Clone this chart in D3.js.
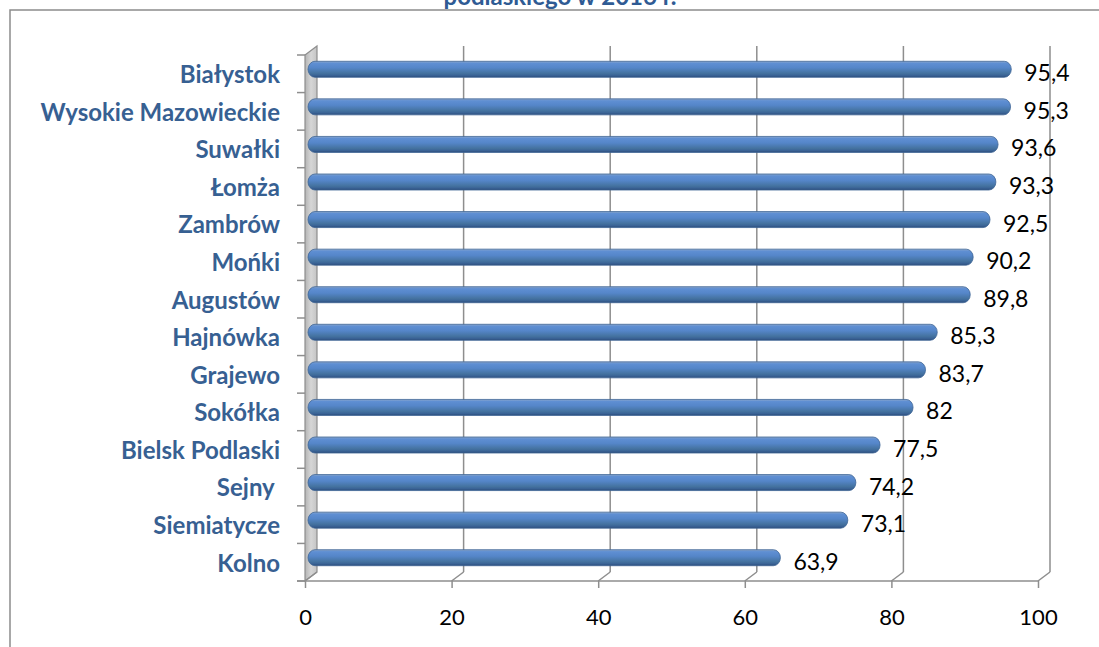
<!DOCTYPE html>
<html>
<head>
<meta charset="utf-8">
<script src="https://cdn.jsdelivr.net/npm/d3@7"></script>
<style>
  body { margin: 0; background: #fff; }
  svg { display: block; }
</style>
</head>
<body>
<div id="chart"></div>
<script>
// Data
const categories = ["Białystok", "Wysokie Mazowieckie", "Suwałki", "Łomża", "Zambrów", "Mońki",
  "Augustów", "Hajnówka", "Grajewo", "Sokółka", "Bielsk Podlaski", "Sejny ", "Siemiatycze", "Kolno"];
const values = [95.4, 95.3, 93.6, 93.3, 92.5, 90.2, 89.8, 85.3, 83.7, 82, 77.5, 74.2, 73.1, 63.9];
const xTicks = [0, 20, 40, 60, 80, 100];
const titleText = "podlaskiego w 2016 r.";

const data = categories.map((c, i) => ({ name: c, value: values[i] }));

const width = 1099, height = 647;
// depth of the 3D plot (back plane offset)
const depthX = 12, depthY = -9;

const svg = d3.select("#chart")
  .append("svg")
  .attr("width", width)
  .attr("height", height);

const defs = svg.append("defs");
const barGrad = defs.append("linearGradient")
  .attr("id", "barGrad")
  .attr("x1", 0).attr("y1", 0).attr("x2", 0).attr("y2", 1);
[[0, "#8fa9cc"], [0.12, "#5f8fd3"], [0.4, "#5586c9"], [0.75, "#44729f"], [0.88, "#3a6396"], [1, "#2c4c78"]]
  .forEach(([o, c]) => barGrad.append("stop").attr("offset", o).attr("stop-color", c));

const wallGrad = defs.append("linearGradient")
  .attr("id", "wallGrad")
  .attr("x1", 0).attr("y1", 0).attr("x2", 1).attr("y2", 0);
[[0, "#b4b4b4"], [0.5, "#d6d6d6"], [1, "#c4c4c4"]]
  .forEach(([o, c]) => wallGrad.append("stop").attr("offset", o).attr("stop-color", c));

// Outer chart border (only top and left fall inside the picture)
svg.append("path")
  .attr("d", "M10,650 L10,10 L1110,10")
  .attr("fill", "none")
  .attr("stroke", "#8c8c8c")
  .attr("stroke-width", 1.5);

// Title (cut off at the top edge, as in the source picture)
svg.append("text")
  .attr("x", 560)
  .attr("y", 5)
  .attr("text-anchor", "middle")
  .attr("font-family", "Lato, 'Open Sans', sans-serif")
  .attr("font-weight", "bold")
  .attr("font-size", 24)
  .attr("fill", "#2f5b94")
  .text(titleText);

// Scales
const xScale = d3.scaleLinear().domain([0, 100]).range([305, 1038]);
const yScale = d3.scaleBand().domain(categories).range([55, 581]).padding(0);

const plotTop = yScale.range()[0], plotBottom = yScale.range()[1];
const gridColor = "#8e8e8e";

// Left side wall
svg.append("path")
  .attr("d", `M${xScale(0)},${plotTop} L${xScale(0) + depthX},${plotTop + depthY} L${xScale(0) + depthX},${plotBottom + depthY} L${xScale(0)},${plotBottom} Z`)
  .attr("fill", "url(#wallGrad)")
  .attr("stroke", gridColor)
  .attr("stroke-width", 1.2);

// Back gridlines and floor diagonals
const grid = svg.append("g");
grid.selectAll(".vgrid")
  .data(xTicks.filter(d => d > 0))
  .enter()
  .append("line")
  .attr("x1", d => xScale(d) + depthX)
  .attr("x2", d => xScale(d) + depthX)
  .attr("y1", plotTop + depthY)
  .attr("y2", plotBottom + depthY)
  .attr("stroke", gridColor)
  .attr("stroke-width", 1.5);
grid.selectAll(".diag")
  .data(xTicks)
  .enter()
  .append("line")
  .attr("x1", d => xScale(d))
  .attr("x2", d => xScale(d) + depthX)
  .attr("y1", plotBottom)
  .attr("y2", plotBottom + depthY)
  .attr("stroke", gridColor)
  .attr("stroke-width", 1.5);

// Bottom axis line with ticks
const xAxis = d3.axisBottom(xScale)
  .tickValues(xTicks)
  .tickSize(7)
  .tickPadding(21)
  .tickFormat(d3.format("d"));
const xAxisG = svg.append("g")
  .attr("transform", `translate(0,${plotBottom})`)
  .call(xAxis);
xAxisG.select(".domain").remove();
xAxisG.selectAll(".tick line").attr("stroke", gridColor).attr("stroke-width", 1.5);
xAxisG.selectAll(".tick text")
  .attr("font-family", "Lato, 'Open Sans', sans-serif")
  .attr("font-size", 22)
  .attr("fill", "#000");
svg.append("line")
  .attr("x1", xScale(0) - 8)
  .attr("x2", xScale(100))
  .attr("y1", plotBottom)
  .attr("y2", plotBottom)
  .attr("stroke", gridColor)
  .attr("stroke-width", 1.5);

// Left category ticks at band boundaries
const boundaries = categories.map(c => yScale(c)).concat([plotBottom]);
svg.selectAll(".ytick")
  .data(boundaries)
  .enter()
  .append("line")
  .attr("x1", xScale(0) - 8)
  .attr("x2", xScale(0))
  .attr("y1", d => d)
  .attr("y2", d => d)
  .attr("stroke", gridColor)
  .attr("stroke-width", 1.5);

// Category labels
svg.selectAll(".cat")
  .data(data)
  .enter()
  .append("text")
  .attr("class", "cat")
  .attr("x", 280)
  .attr("y", d => yScale(d.name) + yScale.bandwidth() / 2 + 1)
  .attr("dy", "0.35em")
  .attr("text-anchor", "end")
  .style("white-space", "pre")
  .attr("font-family", "Lato, 'Open Sans', sans-serif")
  .attr("font-weight", "bold")
  .attr("font-size", 24)
  .attr("fill", "#376092")
  .text(d => d.name);

// Cylinder bars at mid depth
const barH = 16;
const midX = v => xScale(v) + depthX / 2;
const midY = name => yScale(name) + yScale.bandwidth() / 2 + depthY / 2;

svg.selectAll(".bar")
  .data(data)
  .enter()
  .append("rect")
  .attr("class", "bar")
  .attr("x", midX(0) - 3)
  .attr("y", d => midY(d.name) - barH / 2)
  .attr("width", d => midX(d.value) - midX(0) + 4)
  .attr("height", barH)
  .attr("rx", 7)
  .attr("ry", barH / 2)
  .attr("fill", "url(#barGrad)")
  .attr("stroke", "#3d6595")
  .attr("stroke-width", 0.8);

// Value labels
const fmt = v => String(v).replace(".", ",");
svg.selectAll(".val")
  .data(data)
  .enter()
  .append("text")
  .attr("class", "val")
  .attr("x", d => midX(d.value) + 14)
  .attr("y", d => midY(d.name) + 4)
  .attr("dy", "0.35em")
  .attr("font-family", "Lato, 'Open Sans', sans-serif")
  .attr("font-size", 23)
  .attr("fill", "#000")
  .text(d => fmt(d.value));
</script>
</body>
</html>
